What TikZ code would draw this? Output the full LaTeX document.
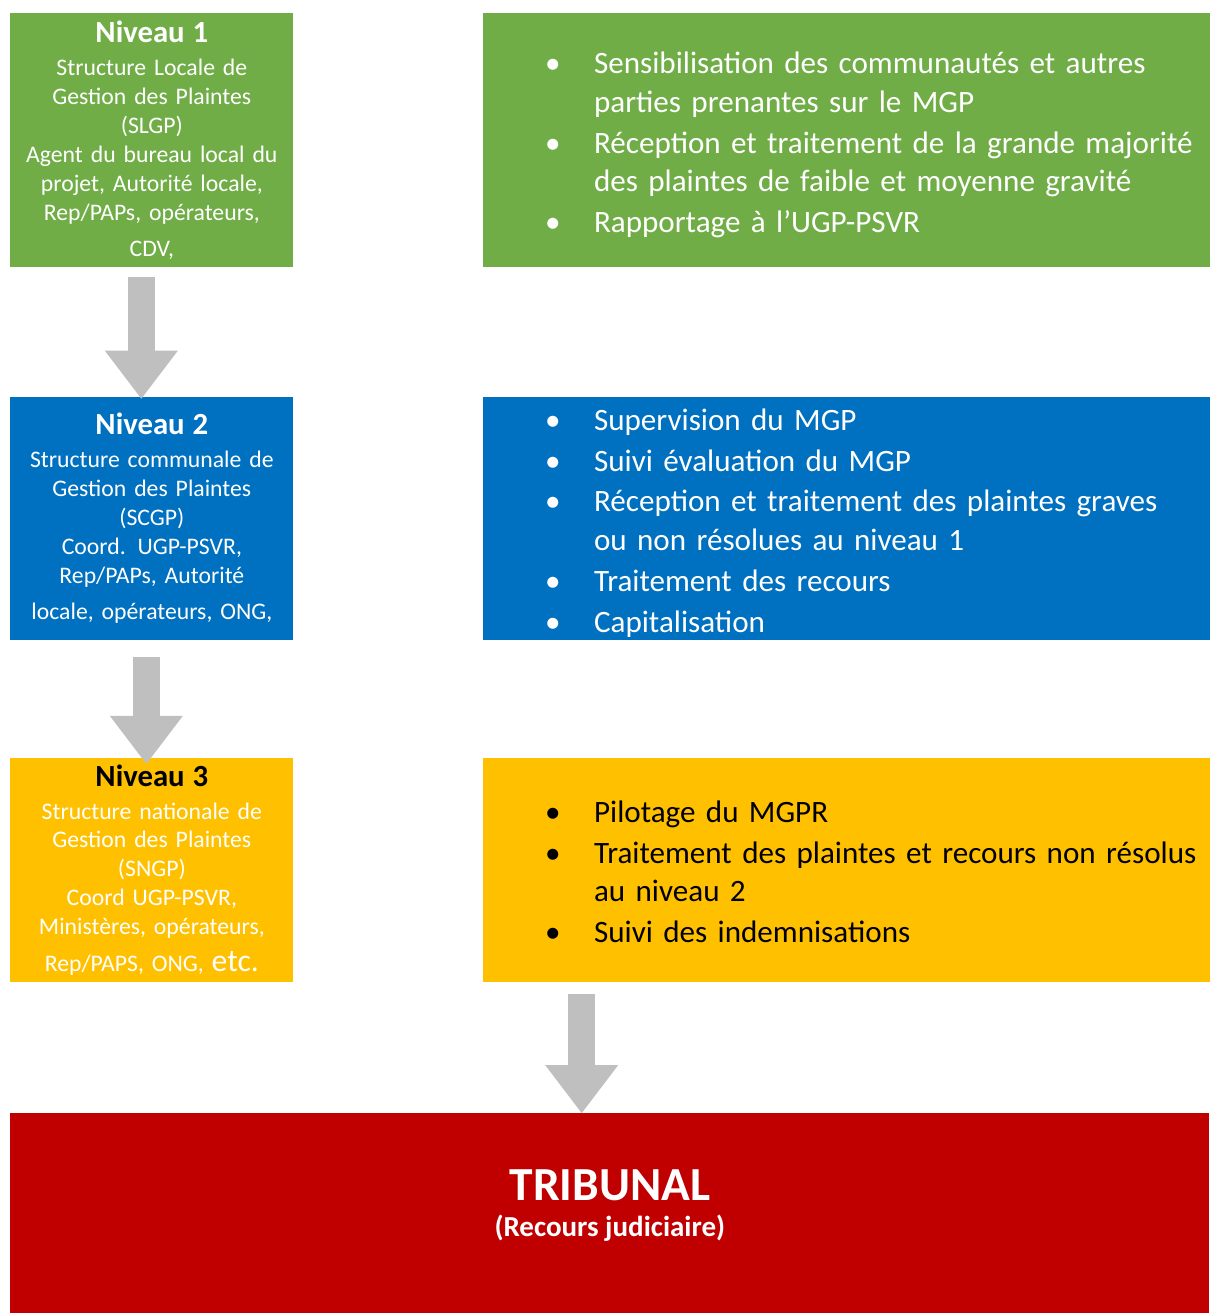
\documentclass[tikz,border=0pt]{standalone}
\usepackage{fontspec}
\setmainfont{Carlito}
\usepackage{tikz}
\usetikzlibrary{arrows.meta,positioning,calc}
\definecolor{vert}{HTML}{70AD47}
\definecolor{bleu}{HTML}{0070C0}
\definecolor{jaune}{HTML}{FFC000}
\definecolor{rouge}{HTML}{C00000}
\definecolor{gris}{HTML}{BFBFBF}
\newcommand{\titre}{\bfseries\fontsize{17.5}{21}\selectfont}
\newcommand{\puces}[1]{\noindent\raisebox{-0.1cm}[\height][\depth]{%
  \begin{tabular}{@{\hspace{1.24cm}}p{0.98cm}@{}l@{}}#1\end{tabular}}}
\tikzset{
    %Define style for level boxes
    niveau/.style={
           rectangle,
           minimum width=5.66cm,
           text width=5.66cm,
           inner xsep=0pt,
           align=center,
           text=white,
           font=\fontsize{13.5}{16.44}\selectfont,
           },
    %Define style for task boxes
    taches/.style={
           rectangle,
           minimum width=14.54cm,
           text width=14.54cm,
           inner sep=0pt,
           align=left,
           font=\fontsize{17.7}{22.1}\selectfont,
           },
    % Define arrow style
    fleche/.style={
           draw=gris,
           line width=0.54cm,
           -{Triangle[width=1.46cm 0 0,length=0.96cm 0 0,line width=0pt]},
           }
}

\begin{document}
\begin{tikzpicture}
\useasboundingbox (0,0) rectangle (24.18,-26.26);
 %nodes
\node[niveau, fill=vert, minimum height=5.08cm, anchor=north west](n1) at (0.2,-0.26){{\titre Niveau 1}\\[2.3pt]
  Structure Locale de\\ Gestion des Plaintes\\ (SLGP)\\ Agent du bureau local du\\
  projet, Autorité locale,\\ Rep/PAPs, opérateurs,\\[4.4pt] CDV,};
\node[niveau, fill=bleu, minimum height=4.86cm, below=2.58cm of n1](n2){{\titre Niveau 2}\\[2.3pt]
  Structure communale de\\ Gestion des Plaintes\\ (SCGP)\\ Coord. UGP-PSVR,\\
  Rep/PAPs, Autorité\\[4.4pt] locale, opérateurs, ONG,};
\node[niveau, fill=jaune, minimum height=4.48cm, below=2.34cm of n2](n3){{\titre\color{black} Niveau 3}\\[2.3pt]
  Structure nationale de\\ Gestion des Plaintes\\ (SNGP)\\ Coord UGP-PSVR,\\
  Ministères, opérateurs,\\[4.4pt] Rep/PAPS, ONG, {\fontsize{18}{16.44}\selectfont etc.}};
\node[taches, fill=vert, text=white, minimum height=5.08cm, right=3.78cm of n1](m1){\puces{
  \textbullet & Sensibilisation des communautés et autres\\
   & parties prenantes sur le MGP\\[1.1pt]
  \textbullet & Réception et traitement de la grande majorité\\
   & des plaintes de faible et moyenne gravité\\[1.1pt]
  \textbullet & Rapportage à l’UGP-PSVR}};
\node[taches, fill=bleu, text=white, minimum height=4.86cm, right=3.78cm of n2](m2){\puces{
  \textbullet & Supervision du MGP\\[1.1pt]
  \textbullet & Suivi évaluation du MGP\\[1.1pt]
  \textbullet & Réception et traitement des plaintes graves\\
   & ou non résolues au niveau 1\\[1.1pt]
  \textbullet & Traitement des recours\\[1.1pt]
  \textbullet & Capitalisation}};
\node[taches, fill=jaune, minimum height=4.48cm, right=3.78cm of n3](m3){\puces{
  \textbullet & Pilotage du MGPR\\[1.1pt]
  \textbullet & Traitement des plaintes et recours non résolus\\
   & au niveau 2\\[1.1pt]
  \textbullet & Suivi des indemnisations}};
\node[fill=rouge, text=white, minimum width=23.98cm, minimum height=4.04cm, align=center,
  font=\bfseries\fontsize{16.5}{20.4}\selectfont, text depth=13pt,
  below=2.62cm of n3.south west, anchor=north west](trib){{\fontsize{27}{32}\selectfont TRIBUNAL}\\ (Recours judiciaire)};
 %arrows
\coordinate (f1) at ($(n1.south)+(-0.21,-0.18)$);
\coordinate (f2) at ($(n2.south)+(-0.11,-0.34)$);
\coordinate (f3) at ($(m3.south west)+(1.98,-0.24)$);
\draw[fleche] (f1) -- ($(f1 |- n2.north)+(0,-0.04)$);
\draw[fleche] (f2) -- ($(f2 |- n3.north)+(0,-0.13)$);
\draw[fleche] (f3) -- (f3 |- trib.north);
\end{tikzpicture}
\end{document}
